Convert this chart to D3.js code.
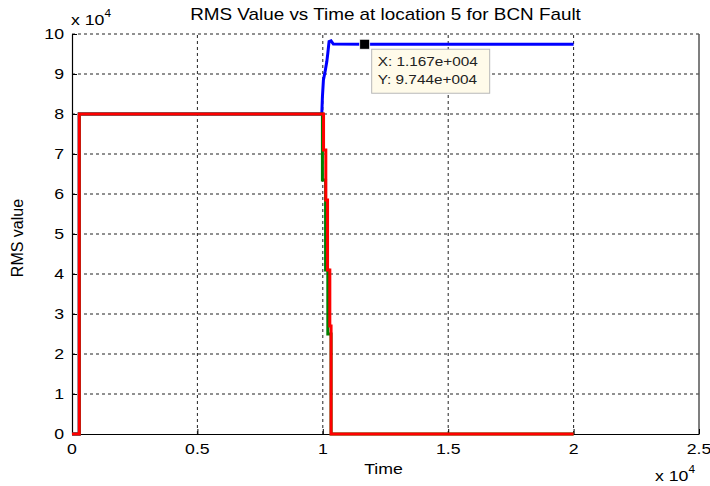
<!DOCTYPE html>
<html>
<head>
<meta charset="utf-8">
<script src="https://cdn.jsdelivr.net/npm/d3@7/dist/d3.min.js"></script>
<style>
  html, body { margin: 0; padding: 0; background: #fff; }
  svg { display: block; font-family: "Liberation Sans", Arial, sans-serif; }
</style>
</head>
<body>
<svg id="chart" width="710" height="486"></svg>
<script>
// Time axis (samples) and RMS values of the three phases
const blueTime  = [0, 290, 290, 9960, 9985, 10025, 10092, 10160, 10200, 10250, 10330, 10420, 11670, 20000];
const blueRms   = [0, 0, 80000, 80000, 84300, 88500, 90600, 93100, 95200, 98100, 98300, 97500, 97440, 97440];

const greenTime = [0, 290, 290, 9985, 9985, 10110, 10110, 10200, 10200, 10330, 10330, 20000];
const greenRms  = [0, 0, 80000, 80000, 63500, 63500, 41000, 41000, 25000, 25000, 0, 0];

const redTime   = [0, 290, 290, 10030, 10030, 10120, 10120, 10190, 10190, 10280, 10280, 10330, 10330, 20000];
const redRms    = [0, 0, 80000, 80000, 71000, 71000, 58500, 58500, 41000, 41000, 27000, 27000, 0, 0];

const xTicks = [0, 5000, 10000, 15000, 20000, 25000];
const xTickLabels = ["0", "0.5", "1", "1.5", "2", "2.5"];
const yTicks = [0, 10000, 20000, 30000, 40000, 50000, 60000, 70000, 80000, 90000, 100000];
const yTickLabels = ["0", "1", "2", "3", "4", "5", "6", "7", "8", "9", "10"];

// Data cursor
const tipTime = 11670;
const tipRms = 97440;

const svg = d3.select("#chart");
const plotL = 72, plotR = 699, plotT = 34, plotB = 434;
const SX = 1.18; // horizontal stretch of the figure's text

const x = d3.scaleLinear().domain([0, 25000]).range([plotL, plotR]);
const y = d3.scaleLinear().domain([0, 100000]).range([plotB, plotT]);

// Text helper: places a horizontally stretched label
function label(px, py, str, size, anchor) {
  const g = svg.append("g").attr("transform", `translate(${px},${py}) scale(${SX},1)`);
  return g.append("text").attr("text-anchor", anchor || "start")
    .style("font-size", size + "px").attr("fill", "#000").text(str);
}

// Grid (dotted MATLAB style)
const grid = svg.append("g").attr("stroke", "#222").attr("stroke-width", 1).attr("stroke-dasharray", "3,3");
xTicks.slice(1, -1).forEach(t => {
  grid.append("line").attr("x1", x(t)).attr("x2", x(t)).attr("y1", plotB).attr("y2", plotT);
});
yTicks.slice(1).forEach(t => {
  grid.append("line").attr("x1", plotL).attr("x2", plotR).attr("y1", y(t)).attr("y2", y(t));
});

// Right box edge
svg.append("line").attr("x1", plotR).attr("x2", plotR).attr("y1", plotT).attr("y2", plotB)
  .attr("stroke", "#555").attr("stroke-width", 1.5);

// Axes (lines and ticks from d3; labels drawn stretched below)
const xAxis = d3.axisBottom(x).tickValues(xTicks).tickFormat("").tickSizeInner(-5).tickSizeOuter(0);
const yAxis = d3.axisLeft(y).tickValues(yTicks).tickFormat("").tickSizeInner(-5).tickSizeOuter(0);
const gx = svg.append("g").attr("transform", `translate(0,${plotB})`).call(xAxis);
const gy = svg.append("g").attr("transform", `translate(${plotL},0)`).call(yAxis);
[gx, gy].forEach(g => {
  g.select(".domain").attr("stroke", "#000").attr("stroke-width", 1.2);
  g.selectAll(".tick line").attr("stroke", "#000");
});
xTicks.forEach((t, i) => label(x(t), plotB + 20, xTickLabels[i], 15, "middle"));
yTicks.forEach((t, i) => label(plotL - 8, y(t) + 5, yTickLabels[i], 15, "end"));

// Series lines
const line = d3.line().x(d => x(d[0])).y(d => y(d[1]));
const series = [
  { t: blueTime, v: blueRms, c: "#0000ff" },
  { t: greenTime, v: greenRms, c: "#008000" },
  { t: redTime, v: redRms, c: "#ff0000" }
];
series.forEach(s => {
  svg.append("path")
    .datum(s.t.map((t, i) => [t, s.v[i]]))
    .attr("d", line)
    .attr("fill", "none")
    .attr("stroke", s.c)
    .attr("stroke-width", 3)
    .attr("stroke-linejoin", "miter");
});

// Data cursor marker and tip
const mx = x(tipTime), my = y(tipRms);
svg.append("rect").attr("x", mx - 5).attr("y", my - 5).attr("width", 10).attr("height", 10)
  .attr("fill", "#000").attr("stroke", "#fff").attr("stroke-width", 0.8);
const bx = mx + 7, by = my + 5;
svg.append("rect").attr("x", bx).attr("y", by).attr("width", 118).attr("height", 44)
  .attr("fill", "#fffbea").attr("stroke", "#b8b8b8").attr("stroke-width", 1);
label(bx + 6, by + 17, "X: " + (tipTime / 1e4).toFixed(3) + "e+004", 13).attr("fill", "#222");
label(bx + 6, by + 35, "Y: " + (tipRms / 1e4).toFixed(3) + "e+004", 13).attr("fill", "#222");

// Title and axis labels
label((plotL + plotR) / 2, 20, "RMS Value vs Time at location 5 for BCN Fault", 16, "middle");
label((plotL + plotR) / 2 - 2, 474, "Time", 15, "middle");
svg.append("text").attr("transform", `translate(23,${(plotT + plotB) / 2 + 4}) rotate(-90)`)
  .attr("text-anchor", "middle").style("font-size", "16px").attr("fill", "#000").text("RMS value");

// Exponent labels
function exponent(px, py) {
  const t = label(px, py, "x 10", 15);
  t.append("tspan").attr("dy", -8).style("font-size", "10px").text("4");
}
exponent(71, 25);
exponent(655, 481);
</script>
</body>
</html>
